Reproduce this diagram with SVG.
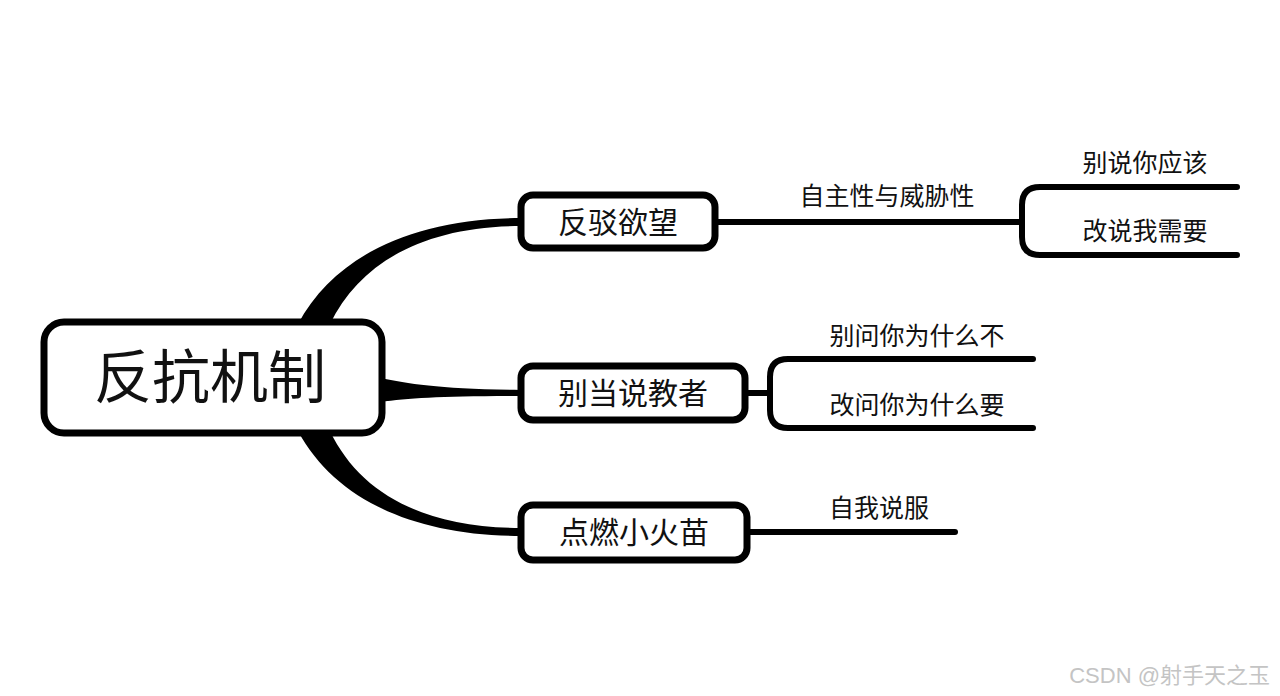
<svg xmlns="http://www.w3.org/2000/svg" width="1280" height="696" viewBox="0 0 1280 696">
<style>
text{font-family:"Noto Sans CJK SC","Noto Sans",sans-serif;fill:#111;text-anchor:middle}
.box{fill:#fff;stroke:#000;stroke-width:7}
.ln{fill:none;stroke:#000;stroke-width:6;stroke-linecap:round;stroke-linejoin:round}
.br{fill:#000}
.n{font-size:30px}
.l{font-size:25px}
</style>
<rect width="1280" height="696" fill="#fff"/>
<g id="connectors">
<path class="br" d="M298,324 C335,255 415,218 521,218 L521,226 C425,226 360,262 330,324 Z"/>
<path class="br" d="M380,378 C410,384 440,389 521,390 L521,396 C440,396 410,398 380,402 Z"/>
<path class="br" d="M298,431 C335,500 415,536 521,536 L521,528 C425,528 360,494 330,431 Z"/>
<path class="ln" d="M715,222 L1022,222"/>
<path class="ln" d="M1237,187 L1040,187 Q1022,187 1022,205 L1022,237 Q1022,255 1040,255 L1237,255"/>
<path class="ln" d="M745,393 L770,393"/>
<path class="ln" d="M1033,359 L788,359 Q770,359 770,377 L770,410 Q770,428 788,428 L1033,428"/>
<path class="ln" d="M747,532 L955,532"/>
</g>
<g id="root">
<rect class="box" x="44" y="322" width="338" height="111" rx="20"/>
<text x="210" y="398" style="font-size:58px">反抗机制</text>
</g>
<g id="n1">
<rect class="box" x="521" y="195" width="194" height="53" rx="12"/>
<text class="n" x="618" y="233">反驳欲望</text>
</g>
<g id="n2">
<rect class="box" x="521" y="366" width="224" height="54" rx="12"/>
<text class="n" x="633" y="404">别当说教者</text>
</g>
<g id="n3">
<rect class="box" x="521" y="505" width="226" height="55" rx="12"/>
<text class="n" x="634" y="543">点燃小火苗</text>
</g>
<g id="labels">
<text class="l" x="887" y="205">自主性与威胁性</text>
<text class="l" x="1145" y="172">别说你应该</text>
<text class="l" x="1145" y="240">改说我需要</text>
<text class="l" x="917" y="345">别问你为什么不</text>
<text class="l" x="917" y="414">改问你为什么要</text>
<text class="l" x="879" y="517">自我说服</text>
</g>
<text x="1270" y="683" style="font-size:22px;fill:#c4c4c4;text-anchor:end;font-family:'Liberation Sans','Noto Sans CJK SC',sans-serif">CSDN @射手天之玉</text>
</svg>
